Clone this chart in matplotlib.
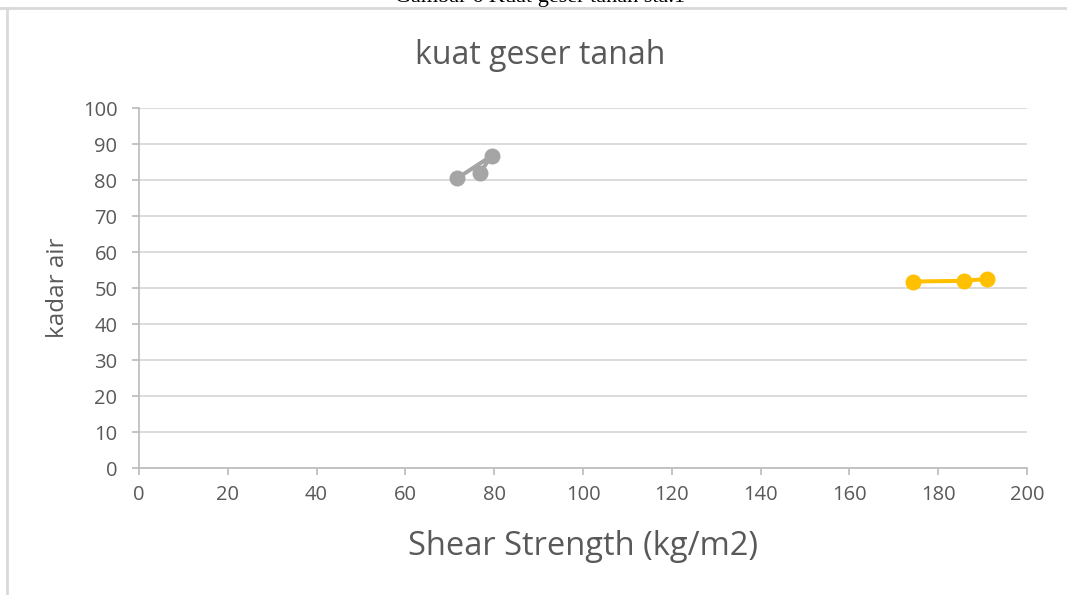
import matplotlib
matplotlib.use("Agg")
import matplotlib.pyplot as plt
from matplotlib.lines import Line2D

# Shear strength (kg/m2) vs water content for two samples
shear_a = [71.7, 79.4, 76.8]
water_a = [80.5, 86.7, 82.0]
shear_b = [174.3, 185.7, 191.0]
water_b = [51.8, 52.0, 52.5]

x_ticks = [0, 20, 40, 60, 80, 100, 120, 140, 160, 180, 200]
y_ticks = [0, 10, 20, 30, 40, 50, 60, 70, 80, 90, 100]

title = "kuat geser tanah"
x_label = "Shear Strength (kg/m2)"
y_label = "kadar air"
caption = "Gambar 6 Kuat geser tanah sta.1"

GREY = "#A5A5A5"
GOLD = "#FFC000"
TEXT = "#595959"
GRID = "#D9D9D9"
AXIS = "#BFBFBF"

plt.rcParams["font.family"] = ["Open Sans", "DejaVu Sans"]

W, H = 1067, 595
fig = plt.figure(figsize=(W / 100, H / 100), dpi=100)
fig.patch.set_facecolor("white")

ax = fig.add_axes([139 / W, 1 - 468 / H, (1027 - 139) / W, (468 - 108) / H])

ax.plot(shear_a, water_a, color=GREY, lw=2.9, marker="o", ms=10.5,
        solid_capstyle="round", zorder=3)
ax.plot(shear_b, water_b, color=GOLD, lw=2.9, marker="o", ms=10.5,
        solid_capstyle="round", zorder=3)

ax.set_xlim(0, 200)
ax.set_ylim(0, 100)
ax.set_xticks(x_ticks)
ax.set_yticks(y_ticks)
ax.grid(axis="y", color=GRID, lw=1.3)
ax.set_axisbelow(True)

for s in ["top", "right"]:
    ax.spines[s].set_visible(False)
for s in ["left", "bottom"]:
    ax.spines[s].set_color(AXIS)
    ax.spines[s].set_linewidth(1.3)

ax.tick_params(axis="x", colors=AXIS, length=5, width=1.3, labelsize=14.5,
               labelcolor=TEXT, pad=7)
ax.tick_params(axis="y", colors=AXIS, length=5, width=1.3, labelsize=14.5,
               labelcolor=TEXT, pad=10.5)

ax.set_xlabel(x_label, fontsize=23.5, color=TEXT, labelpad=18)
ax.set_ylabel(y_label, fontsize=17.5, color=TEXT, labelpad=9)

fig.text(540 / W, 1 - 55 / H, title, fontsize=23, color=TEXT,
         ha="center", va="center")

# chart frame and document caption above it
fig.add_artist(Line2D([7 / W, 7 / W], [0, 1 - 8 / H], transform=fig.transFigure,
                      color=GRID, lw=2))
fig.add_artist(Line2D([0, 1066 / W], [1 - 8 / H, 1 - 8 / H],
                      transform=fig.transFigure, color=GRID, lw=2))
fig.text(540 / W, 1 - 2 / H, caption, fontsize=16,
         family=["Liberation Serif", "DejaVu Serif"], color="black",
         ha="center", va="baseline")

fig.savefig("out.png", dpi=100, facecolor="white")
